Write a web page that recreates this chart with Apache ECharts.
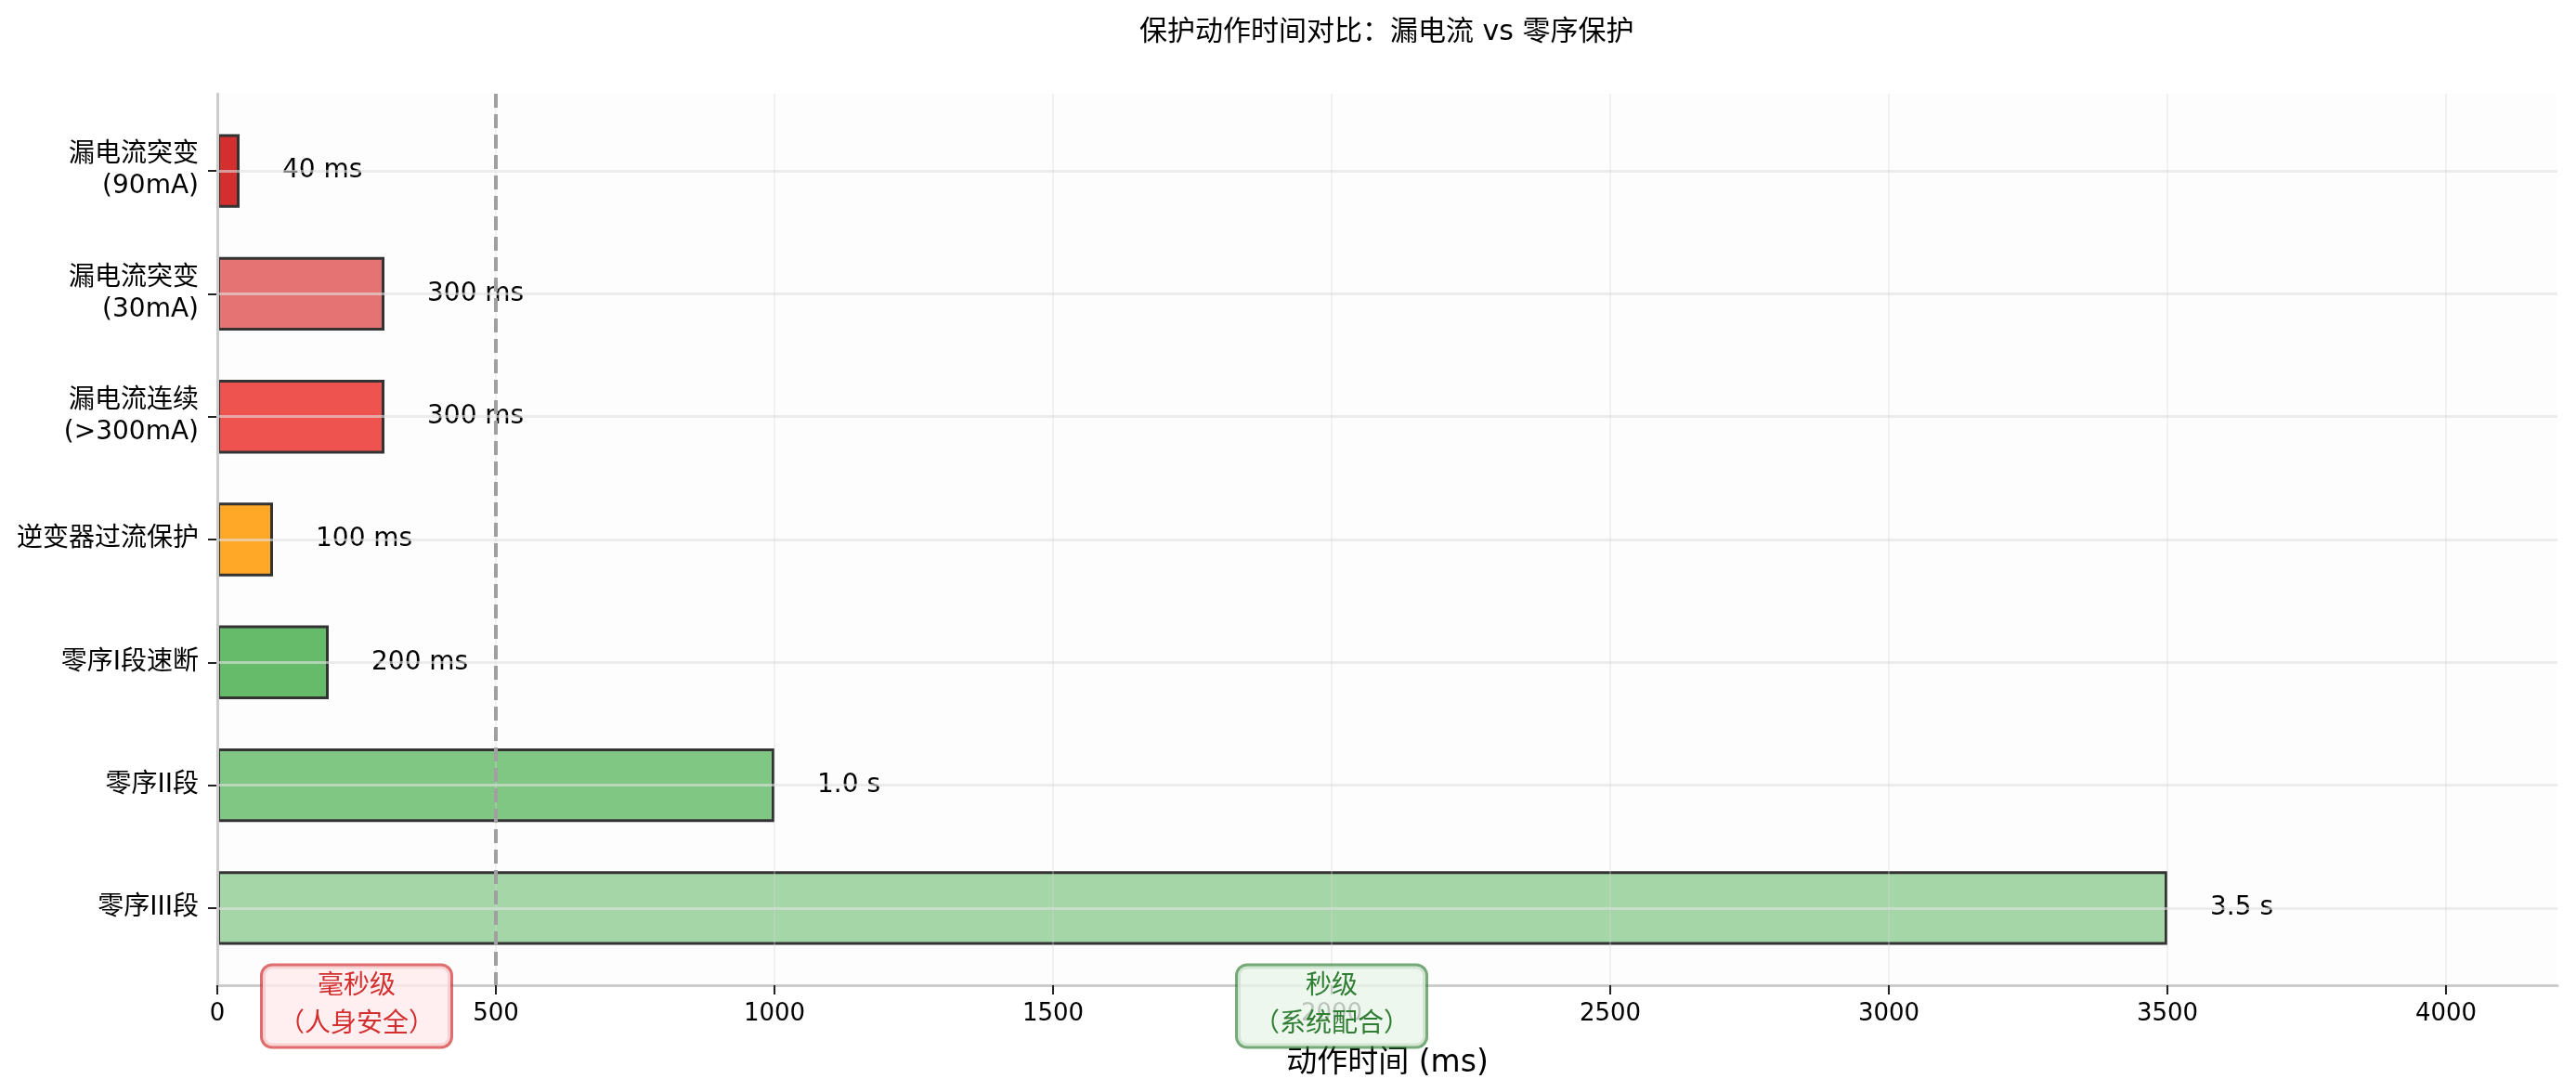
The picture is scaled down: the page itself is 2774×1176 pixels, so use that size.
<!DOCTYPE html>
<html>
<head>
<meta charset="utf-8">
<title>保护动作时间对比</title>
<script src="https://cdn.jsdelivr.net/npm/echarts@6/dist/echarts.min.js"></script>
<style>
  html, body { margin: 0; padding: 0; background: #fff; }
  #chart { width: 2774px; height: 1176px; }
</style>
</head>
<body>
<div id="chart"></div>
<script>
// 数据
var categories = ['漏电流突变\n(90mA)', '漏电流突变\n(30mA)', '漏电流连续\n(>300mA)', '逆变器过流保护', '零序I段速断', '零序II段', '零序III段'];
var times = [40, 300, 300, 100, 200, 1000, 3500];
var barColors = ['#d32f2f', '#e57373', '#ef5350', '#ffa726', '#66bb6a', '#81c784', '#a5d6a7'];
var xTicks = [0, 500, 1000, 1500, 2000, 2500, 3000, 3500, 4000];
var thresholdMs = 500;
var notes = [
	{ x: 250, y: 6.8, text: '毫秒级\n（人身安全）', color: '#d32f2f', bg: 'rgba(255,235,238,0.8)', border: 'rgba(211,47,47,0.7)' },
	{ x: 2000, y: 6.8, text: '秒级\n（系统配合）', color: '#2e7d32', bg: 'rgba(232,245,233,0.8)', border: 'rgba(46,125,50,0.65)' }
];

var FONT = "'DejaVu Sans', 'Noto Sans CJK SC', sans-serif";
var Y_MIN = -0.63, Y_MAX = 6.63;
var PX_PER_ROW = 960 / (Y_MAX - Y_MIN);

function fmtTime(v) {
	return v < 1000 ? v + ' ms' : (v / 1000).toFixed(1) + ' s';
}

var barData = [];
for (var i = 0; i < times.length; i++) {
	barData.push({
		value: times[i],
		itemStyle: { color: barColors[i] }
	});
}

// 标注框位于坐标轴下方，markPoint 放在边缘内再用像素偏移
var markPts = [];
for (var j = 0; j < notes.length; j++) {
	var n = notes[j];
	var yIn = Math.min(n.y, 6.6);
	markPts.push({
		coord: [n.x, yIn],
		symbol: 'rect',
		symbolSize: 1,
		itemStyle: { color: 'rgba(0,0,0,0)' },
		label: {
			show: true,
			position: 'inside',
			offset: [0, (n.y - yIn) * PX_PER_ROW],
			formatter: n.text,
			color: n.color,
			fontSize: 28,
			lineHeight: 41,
			fontFamily: FONT,
			align: 'center',
			verticalAlign: 'middle',
			backgroundColor: n.bg,
			borderColor: n.border,
			borderWidth: 3,
			borderRadius: 10,
			padding: [2, 17]
		}
	});
}

var myChart = echarts.init(document.getElementById('chart'));
var option = {
	backgroundColor: '#ffffff',
	animation: false,
	textStyle: { fontFamily: FONT },
	title: {
		text: '保护动作时间对比：漏电流 vs 零序保护',
		left: 1227,
		top: 20,
		padding: 0,
		textStyle: { fontSize: 30, fontWeight: 'normal', color: '#000', fontFamily: FONT }
	},
	grid: [
		// 外框：坐标轴、网格、标注
		{ left: 234, right: 20, top: 101, bottom: 115, backgroundColor: '#fdfdfd', show: true, borderWidth: 0 },
		// 条形
		{ left: 234, right: 20, top: 118, bottom: 132 }
	],
	xAxis: [
		{
			gridIndex: 0,
			type: 'value',
			min: 0,
			max: 4200,
			interval: 500,
			z: 10,
			name: '动作时间 (ms)',
			nameLocation: 'middle',
			nameGap: 68,
			nameTextStyle: { fontSize: 33, color: '#000', fontFamily: FONT },
			axisLine: { show: true, onZero: false, lineStyle: { color: '#cccccc', width: 3 } },
			axisTick: { show: true, length: 10, customValues: xTicks, lineStyle: { color: '#222', width: 2 } },
			axisLabel: {
				margin: 18, fontSize: 26, color: '#000', customValues: xTicks, fontFamily: FONT,
				formatter: function (v) { return String(v); }
			},
			splitLine: { show: true, lineStyle: { color: 'rgba(215,215,215,0.3)', width: 2 } }
		},
		{
			gridIndex: 1,
			type: 'value',
			min: 0,
			max: 4200,
			show: false
		}
	],
	yAxis: [
		{
			gridIndex: 0,
			type: 'value',
			min: Y_MIN,
			max: Y_MAX,
			inverse: true,
			z: 10,
			axisLine: { show: true, onZero: false, lineStyle: { color: '#cccccc', width: 3 } },
			axisTick: { show: false },
			axisLabel: { show: false },
			splitLine: { show: false }
		},
		{
			gridIndex: 1,
			type: 'category',
			data: categories,
			inverse: true,
			z: 9,
			axisLine: { show: false },
			axisTick: { show: true, alignWithLabel: true, length: 10, lineStyle: { color: '#222', width: 2 } },
			axisLabel: { margin: 20, fontSize: 28, lineHeight: 34, color: '#000', align: 'right', fontFamily: FONT },
			splitLine: { show: true, alignWithLabel: true, lineStyle: { color: 'rgba(225,225,225,0.6)', width: 3 } }
		}
	],
	series: [
		{
			type: 'bar',
			xAxisIndex: 1,
			yAxisIndex: 1,
			barWidth: '60%',
			z: 2,
			data: barData,
			itemStyle: { borderColor: '#333333', borderWidth: 3 },
			label: {
				show: true,
				position: 'right',
				distance: 46,
				fontSize: 28,
				color: '#000',
				fontFamily: FONT,
				formatter: function (p) { return fmtTime(p.value); }
			}
		},
		{
			type: 'scatter',
			xAxisIndex: 0,
			yAxisIndex: 0,
			z: 20,
			data: [],
			silent: true,
			markLine: {
				silent: true,
				z: 12,
				symbol: 'none',
				label: { show: false },
				lineStyle: { color: '#a0a0a0', width: 4, type: [15, 7] },
				data: [{ xAxis: thresholdMs }]
			},
			markPoint: {
				silent: true,
				z: 30,
				data: markPts
			}
		}
	]
};
myChart.setOption(option);
</script>
</body>
</html>
